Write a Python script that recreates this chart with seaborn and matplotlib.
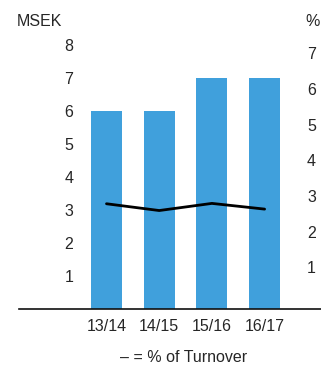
import numpy as np
import seaborn as sns
import matplotlib.pyplot as plt

periods = ["13/14", "14/15", "15/16", "16/17"]
msek = [6, 6, 7, 7]
pct_turnover = [2.78, 2.59, 2.79, 2.63]
left_ticks = [1, 2, 3, 4, 5, 6, 7, 8]
right_ticks = [1, 2, 3, 4, 5, 6, 7]

sns.set_style("white")
plt.rcParams["font.family"] = ["Liberation Sans", "DejaVu Sans"]

W, H = 321, 367
fig = plt.figure(figsize=(W / 100, H / 100), dpi=100)
ax = fig.add_axes([19 / W, 1 - 309 / H, 1 - 19 / W, (309 - 40) / H])

sns.barplot(x=periods, y=msek, ax=ax, color="#40a0dc", saturation=1,
            width=0.59, linewidth=0)
ax.set_xlim(-1.66, 4.07)
ax.set_ylim(0, 8.15)
ax.set_yticks(left_ticks)
ax.tick_params(axis="y", length=0, pad=-39, labelsize=11.5)
ax.tick_params(axis="x", length=0, pad=7, labelsize=11.5)
for s in ["top", "left", "right"]:
    ax.spines[s].set_visible(False)
ax.spines["bottom"].set_color("#111111")
ax.spines["bottom"].set_linewidth(1.2)

ax2 = ax.twinx()
sns.lineplot(x=np.arange(len(periods)), y=pct_turnover, ax=ax2,
             color="black", linewidth=2.0)
ax2.set_ylim(-0.17, 7.37)
ax2.set_yticks(right_ticks)
ax2.tick_params(axis="y", length=0, pad=-10, labelsize=11.5)
for s in ["top", "left", "right", "bottom"]:
    ax2.spines[s].set_visible(False)

fig.text(39 / W, 1 - 22 / H, "MSEK", ha="center", va="center", fontsize=11.5)
fig.text(313 / W, 1 - 21 / H, "%", ha="center", va="center", fontsize=11.5)
fig.text(184 / W, 1 - 358 / H, "\u2013 = % of Turnover", ha="center",
         va="center", fontsize=11.5)

fig.savefig("out.png", dpi=100)
